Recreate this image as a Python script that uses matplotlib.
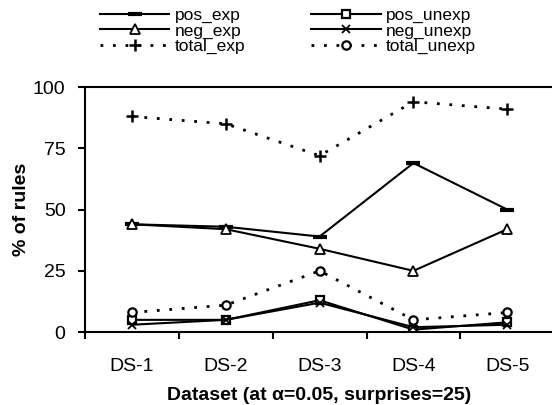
import numpy as np
import matplotlib
matplotlib.use("Agg")
import matplotlib.pyplot as plt

plt.rcParams['font.family'] = ['Liberation Sans', 'DejaVu Sans']

datasets = ["DS-1", "DS-2", "DS-3", "DS-4", "DS-5"]
pos_exp = [44, 43, 39, 69, 50]
pos_unexp = [5, 5, 13, 1, 4]
neg_exp = [44, 42, 34, 25, 42]
neg_unexp = [3, 5, 12, 2, 3]
total_exp = [88, 85, 72, 94, 91]
total_unexp = [8, 11, 25, 5, 8]

fig = plt.figure(figsize=(5.52, 4.05), dpi=100)
ax = fig.add_axes([0.154, 0.180, 0.85, 0.605])

x = np.arange(1, len(datasets) + 1)
dots = (0, (1, 3.5))

series = [
    ("pos_exp", pos_exp, '-', dict(marker='_', markersize=10, markeredgewidth=3)),
    ("neg_exp", neg_exp, '-', dict(marker='^', markersize=7, markerfacecolor='white', markeredgewidth=1.3)),
    ("total_exp", total_exp, dots, dict(marker='+', markersize=8, markeredgewidth=1.8)),
    ("pos_unexp", pos_unexp, '-', dict(marker='s', markersize=6, markerfacecolor='white', markeredgewidth=1.6)),
    ("neg_unexp", neg_unexp, '-', dict(marker='x', markersize=6, markeredgewidth=1.3)),
    ("total_unexp", total_unexp, dots, dict(marker='o', markersize=6, markerfacecolor='white', markeredgewidth=1.6)),
]

handles = []
for name, vals, ls, mk in series:
    lw = 2.0 if ls == dots else 1.5
    h, = ax.plot(x, vals, color='black', linestyle=ls, linewidth=lw, label=name, **mk)
    handles.append(h)

ax.set_xlim(0.5, 5.5)
ax.set_ylim(0, 100)
ax.set_yticks([0, 25, 50, 75, 100])
ax.set_xticks(x)
ax.set_xticklabels(datasets)
ax.set_xticks(np.arange(0.5, 6.0, 1.0), minor=True)
ax.tick_params(axis='x', which='major', length=0, pad=19, labelsize=14)
ax.tick_params(axis='x', which='minor', length=5, width=1.5, direction='out')
ax.tick_params(axis='y', length=5, width=1.5, direction='out', labelsize=14, pad=9)

for side in ['left', 'bottom', 'top']:
    ax.spines[side].set_linewidth(1.5)
ax.spines['right'].set_visible(False)

ax.set_ylabel("% of rules", fontsize=14, fontweight='bold', labelpad=2)
ax.set_xlabel("Dataset (at \u03b1=0.05, surprises=25)", fontsize=14, fontweight='bold', labelpad=8)

fig.legend(handles=handles, ncol=2, loc='upper left', bbox_to_anchor=(100 / 552, 1 - 8 / 405),
           frameon=False, fontsize=12.5, handlelength=4.0, labelspacing=0.0,
           columnspacing=3.8, handletextpad=0.3, borderaxespad=0, borderpad=0)

fig.savefig("out.png", dpi=100)
